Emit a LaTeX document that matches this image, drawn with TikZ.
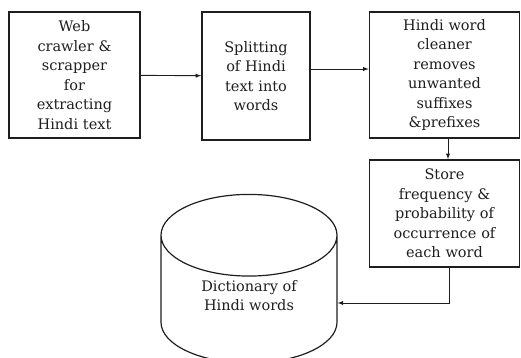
\documentclass[tikz,border=0pt]{standalone}
\usepackage{fontspec}
\setmainfont{DejaVu Serif}
\usepackage{tikz}
\usetikzlibrary{shapes,arrows,positioning,calc}
\definecolor{inkgray}{RGB}{30,30,30}

\begin{document}
\begin{tikzpicture}[x=1pt, y=-1pt,
    every node/.style={font=\fontsize{14.5}{19.5}\selectfont, text=inkgray, align=center},
    stagebox/.style={draw=inkgray, line width=1.6pt, inner sep=2pt},
    flow/.style={draw=inkgray, line width=0.9pt, -latex}]
    \useasboundingbox (0,0) rectangle (521,358);

    % Processing stages
    \node[stagebox, minimum width=131pt, minimum height=126pt, text width=125pt] (crawler) at (74.5,75)
        {Web\\crawler \&\\scrapper\\for\\extracting\\Hindi text};
    \node[stagebox, minimum width=108pt, minimum height=128pt, text width=104pt] (split) at (256,76)
        {Splitting\\of Hindi\\text into\\words};
    \node[stagebox, minimum width=150pt, minimum height=126pt, text width=145pt] (cleaner) at (444.5,75)
        {Hindi word\\cleaner\\removes\\unwanted\\suffixes\\\&prefixes};
    \node[stagebox, minimum width=150pt, minimum height=107pt, text width=145pt] (store) at (444.5,213.5)
        {Store\\frequency \&\\probability of\\occurrence of\\each word};

    % Dictionary store
    \node[cylinder, shape border rotate=90, draw=inkgray, line width=1.2pt, aspect=0.8,
          minimum width=176pt, minimum height=154pt] (dict) at (249,305)
        {Dictionary of\\Hindi words\\\mbox{}};

    % Connectors
    \draw[flow] (crawler) -- (split);
    \draw[flow] ([yshift=7pt]split.east) -- ([yshift=7pt]split.east -| cleaner.west);
    \draw[flow] ([xshift=3.5pt]cleaner.south) -- ([xshift=3.5pt]store.north);
    \draw[flow] ([xshift=4.5pt]store.south) |- ([yshift=2pt]dict.east);
\end{tikzpicture}
\end{document}
